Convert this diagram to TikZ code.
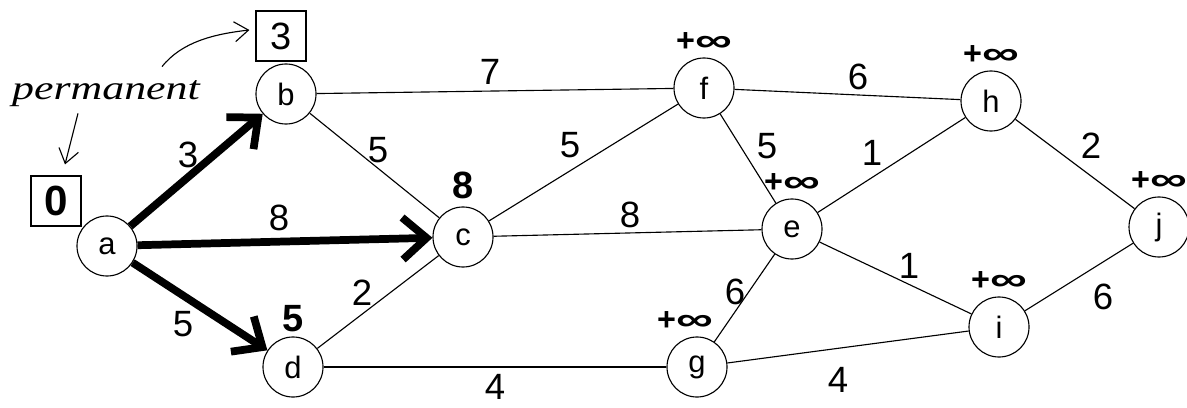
\documentclass[tikz,border=0pt]{standalone}
\usepackage{fontspec}
\usepackage{graphicx}
\setmainfont{Liberation Sans}
\newfontfamily\permfont{Liberation Serif}
\usetikzlibrary{arrows.meta}
\tikzset{vertex/.style = {draw, circle, line width = 0.8pt, minimum size = 1.5cm,
                          inner sep = 0, font = \fontsize{22}{24}\selectfont}}
\tikzset{weight/.style = {inner sep = 0, font = \fontsize{26}{28}\selectfont}}
\tikzset{dist/.style = {inner sep = 0, label distance = 4pt,
                        font = \fontsize{23}{25}\selectfont\bfseries}}
\tikzset{known/.style = {inner sep = 0, font = \fontsize{27}{29}\selectfont\bfseries}}
\tikzset{fixed/.style = {draw, line width = 0.8pt, minimum size = 1.25cm, inner sep = 0,
                         font = \fontsize{27}{30}\selectfont}}
\tikzset{edge/.style = {line width = 0.8pt}}
\tikzset{tree/.style = {line width = 5.5pt, -{Straight Barb[length = 0.6cm, width = 1.05cm]}}}
\tikzset{note/.style = {line width = 0.8pt, -{Straight Barb[length = 0.35cm, width = 0.5cm]}}}
\newcommand{\plusinf}{+\scalebox{1.6}[1]{∞}}

\begin{document}
\begin{tikzpicture}[x = 0.025cm, y = -0.025cm]
    \useasboundingbox (0, 0) rectangle (1187, 407);

    % vertices
    \node [vertex, label = {[known, label distance = 5pt]above:8}] (c) at (463, 237) {c};
    \node [vertex, label = {[known, label distance = 3pt]above:5}] (d) at (293, 367) {d};
    \node [vertex] (a) at (107, 246) {a};
    \node [vertex] (b) at (286, 94) {b};
    \node [vertex, label = {[dist]above:\plusinf}] (e) at (792, 229) {e};
    \node [vertex, label = {[dist]above:\plusinf}] (f) at (704, 88) {f};
    \node [vertex, label = {[dist, xshift = -0.3cm]above:\plusinf}] (g) at (697, 367) {g};
    \node [vertex, label = {[dist]above:\plusinf}] (h) at (991, 101) {h};
    \node [vertex, label = {[dist]above:\plusinf}] (i) at (999, 327) {i};
    \node [vertex, label = {[dist]above:\plusinf}] (j) at (1159, 227) {j};

    % permanent labels
    \node [fixed, font = \fontsize{30}{32}\selectfont\bfseries] (boxa) at (56, 201) {0};
    \node [fixed] (boxb) at (281, 36) {3};
    \node [inner sep = 0, font = \fontsize{24}{26}\selectfont\permfont\itshape] (perm)
          at (106, 94) {\scalebox{1.3}[1]{permanent}};
    \draw [note] ([shift = {(56, -14)}]perm.north) .. controls +(20, -25) and +(-35, 4)
          .. ([shift = {(-6, -6)}]boxb.west);
    \draw [note] ([shift = {(-28, 6)}]perm.south) -- ([shift = {(9, -11)}]boxa.north);

    % shortest path tree
    \draw [tree] (a) -- (b);
    \draw [tree] (a) -- (c);
    \draw [tree] (a) -- (d);

    % other edges
    \draw [edge] (b) -- (f);
    \draw [edge] (b) -- (c);
    \draw [edge] (c) -- (f);
    \draw [edge] (d) -- (c);
    \draw [edge] (c) -- (e);
    \draw [edge] (d) -- (g);
    \draw [edge] (f) -- (h);
    \draw [edge] (f) -- (e);
    \draw [edge] (e) -- (h);
    \draw [edge] (h) -- (j);
    \draw [edge] (e) -- (i);
    \draw [edge] (g) -- (e);
    \draw [edge] (g) -- (i);
    \draw [edge] (i) -- (j);

    % weights
    \node [weight] (wab) at (188, 155) {3};
    \node [weight] (wac) at (279, 218) {8};
    \node [weight] (wad) at (183, 324) {5};
    \node [weight] (wbf) at (490, 72) {7};
    \node [weight] (wbc) at (378, 150) {5};
    \node [weight] (wcf) at (570, 145) {5};
    \node [weight] (wdc) at (362, 293) {2};
    \node [weight] (wce) at (630, 215) {8};
    \node [weight] (wdg) at (495, 387) {4};
    \node [weight] (wfh) at (858, 77) {6};
    \node [weight] (wfe) at (767, 146) {5};
    \node [weight] (weh) at (872, 153) {1};
    \node [weight] (whj) at (1091, 146) {2};
    \node [weight] (wei) at (909, 266) {1};
    \node [weight] (wge) at (735, 292) {6};
    \node [weight] (wgi) at (838, 380) {4};
    \node [weight] (wij) at (1103, 297) {6};
  \end{tikzpicture}
\end{document}
